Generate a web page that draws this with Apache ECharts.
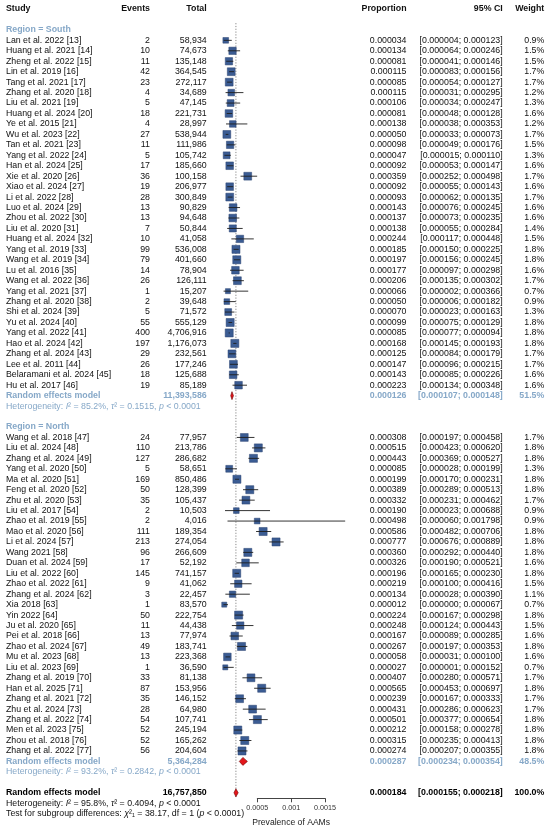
<!DOCTYPE html>
<html>
<head>
<meta charset="utf-8">
<script src="https://cdn.jsdelivr.net/npm/echarts@6/dist/echarts.min.js"></script>
<style>
html, body { margin: 0; padding: 0; background: #fff; }
#chart { width: 550px; height: 830px; }
</style>
</head>
<body>
<div id="chart"></div>
<script>
// ---- data: South region ----
var southStudies = ["Lan et al. 2022 [13]", "Huang et al. 2021 [14]", "Zheng et al. 2022 [15]", "Lin et al. 2019 [16]", "Tang et al. 2021 [17]",
  "Zhang et al. 2020 [18]", "Liu et al. 2021 [19]", "Huang et al. 2024 [20]", "Ye et al. 2015 [21]", "Wu et al. 2023 [22]",
  "Tan et al. 2021 [23]", "Yang et al. 2022 [24]", "Han et al. 2024 [25]", "Xie et al. 2020 [26]", "Xiao et al. 2024 [27]",
  "Li et al. 2022 [28]", "Luo et al. 2024 [29]", "Zhou et al. 2022 [30]", "Liu et al. 2020 [31]", "Huang et al. 2024 [32]",
  "Yang et al. 2019 [33]", "Wang et al. 2019 [34]", "Lu et al. 2016 [35]", "Wang et al. 2022 [36]", "Yang et al. 2021 [37]",
  "Zhang et al. 2020 [38]", "Shi et al. 2024 [39]", "Yu et al. 2024 [40]", "Yang et al. 2022 [41]", "Hao et al. 2024 [42]",
  "Zhang et al. 2024 [43]", "Lee et al. 2011 [44]", "Belaramani et al. 2024 [45]", "Hu et al. 2017 [46]"];
var southEvents = [2, 10, 11, 42, 23, 4, 5, 18, 4, 27, 11, 5, 17, 36, 19, 28, 13, 13, 7, 10, 99, 79, 14, 26, 1, 2, 5, 55, 400, 197, 29, 26, 18, 19];
var southTotals = [58934, 74673, 135148, 364545, 272117, 34689, 47145, 221731, 28997, 538944, 111986, 105742, 185660, 100158, 206977,
  300849, 90829, 94648, 50844, 41058, 536008, 401660, 78904, 126111, 15207, 39648, 71572, 555129, 4706916, 1176073, 232561, 177246, 125688, 85189];
var southProp = [0.000034, 0.000134, 0.000081, 0.000115, 0.000085, 0.000115, 0.000106, 0.000081, 0.000138, 0.000050, 0.000098, 0.000047,
  0.000092, 0.000359, 0.000092, 0.000093, 0.000143, 0.000137, 0.000138, 0.000244, 0.000185, 0.000197, 0.000177, 0.000206, 0.000066,
  0.000050, 0.000070, 0.000099, 0.000085, 0.000168, 0.000125, 0.000147, 0.000143, 0.000223];
var southLow = [0.000004, 0.000064, 0.000041, 0.000083, 0.000054, 0.000031, 0.000034, 0.000048, 0.000038, 0.000033, 0.000049, 0.000015,
  0.000053, 0.000252, 0.000055, 0.000062, 0.000076, 0.000073, 0.000055, 0.000117, 0.000150, 0.000156, 0.000097, 0.000135, 0.000002,
  0.000006, 0.000023, 0.000075, 0.000077, 0.000145, 0.000084, 0.000096, 0.000085, 0.000134];
var southHigh = [0.000123, 0.000246, 0.000146, 0.000156, 0.000127, 0.000295, 0.000247, 0.000128, 0.000353, 0.000073, 0.000176, 0.000110,
  0.000147, 0.000498, 0.000143, 0.000135, 0.000245, 0.000235, 0.000284, 0.000448, 0.000225, 0.000245, 0.000298, 0.000302, 0.000366,
  0.000182, 0.000163, 0.000129, 0.000094, 0.000193, 0.000179, 0.000215, 0.000226, 0.000348];
var southWeight = [0.9, 1.5, 1.5, 1.7, 1.7, 1.2, 1.3, 1.6, 1.2, 1.7, 1.5, 1.3, 1.6, 1.7, 1.6, 1.7, 1.6, 1.6, 1.4, 1.5, 1.8, 1.8, 1.6, 1.7,
  0.7, 0.9, 1.3, 1.8, 1.8, 1.8, 1.7, 1.7, 1.6, 1.6];

// ---- data: North region ----
var northStudies = ["Wang et al. 2018 [47]", "Liu et al. 2024 [48]", "Zhang et al. 2024 [49]", "Yang et al. 2020 [50]", "Ma et al. 2020 [51]",
  "Feng et al. 2020 [52]", "Zhu et al. 2020 [53]", "Liu et al. 2017 [54]", "Zhao et al. 2019 [55]", "Mao et al. 2020 [56]",
  "Li et al. 2024 [57]", "Wang 2021 [58]", "Duan et al. 2024 [59]", "Liu et al. 2022 [60]", "Zhao et al. 2022 [61]",
  "Zhang et al. 2024 [62]", "Xia 2018 [63]", "Yin 2022 [64]", "Ju et al. 2020 [65]", "Pei et al. 2018 [66]",
  "Zhao et al. 2024 [67]", "Mu et al. 2023 [68]", "Liu et al. 2023 [69]", "Zhang et al. 2019 [70]", "Han et al. 2025 [71]",
  "Zhang et al. 2021 [72]", "Zhu et al. 2024 [73]", "Zhang et al. 2022 [74]", "Men et al. 2023 [75]", "Zhou et al. 2018 [76]",
  "Zhang et al. 2022 [77]"];
var northEvents = [24, 110, 127, 5, 169, 50, 35, 2, 2, 111, 213, 96, 17, 145, 9, 3, 1, 50, 11, 13, 49, 13, 1, 33, 87, 35, 28, 54, 52, 52, 56];
var northTotals = [77957, 213786, 286682, 58651, 850486, 128399, 105437, 10503, 4016, 189354, 274054, 266609, 52192, 741157, 41062,
  22457, 83570, 222754, 44438, 77974, 183741, 223368, 36590, 81138, 153956, 146152, 64980, 107741, 245194, 165262, 204604];
var northProp = [0.000308, 0.000515, 0.000443, 0.000085, 0.000199, 0.000389, 0.000332, 0.000190, 0.000498, 0.000586, 0.000777, 0.000360,
  0.000326, 0.000196, 0.000219, 0.000134, 0.000012, 0.000224, 0.000248, 0.000167, 0.000267, 0.000058, 0.000027, 0.000407, 0.000565,
  0.000239, 0.000431, 0.000501, 0.000212, 0.000315, 0.000274];
var northLow = [0.000197, 0.000423, 0.000369, 0.000028, 0.000170, 0.000289, 0.000231, 0.000023, 0.000060, 0.000482, 0.000676, 0.000292,
  0.000190, 0.000165, 0.000100, 0.000028, 0.000000, 0.000167, 0.000124, 0.000089, 0.000197, 0.000031, 0.000001, 0.000280, 0.000453,
  0.000167, 0.000286, 0.000377, 0.000158, 0.000235, 0.000207];
var northHigh = [0.000458, 0.000620, 0.000527, 0.000199, 0.000231, 0.000513, 0.000462, 0.000688, 0.001798, 0.000706, 0.000889, 0.000440,
  0.000521, 0.000230, 0.000416, 0.000390, 0.000067, 0.000298, 0.000443, 0.000285, 0.000353, 0.000100, 0.000152, 0.000571, 0.000697,
  0.000333, 0.000623, 0.000654, 0.000278, 0.000413, 0.000355];
var northWeight = [1.7, 1.8, 1.8, 1.3, 1.8, 1.8, 1.7, 0.9, 0.9, 1.8, 1.8, 1.8, 1.6, 1.8, 1.5, 1.1, 0.7, 1.8, 1.5, 1.6, 1.8, 1.6, 0.7,
  1.7, 1.8, 1.7, 1.7, 1.8, 1.8, 1.8, 1.8];

// ---- subgroup and overall summaries ----
var regionNames = ["South", "North"];
var subTotals = [11393586, 5364284];
var subProp = [0.000126, 0.000287];
var subLow = [0.000107, 0.000234];
var subHigh = [0.000148, 0.000354];
var subWeight = [51.5, 48.5];
var subI2 = ["85.2%", "93.2%"];
var subTau2 = ["0.1515", "0.2842"];

var overallTotal = 16757850;
var overallProp = 0.000184;
var overallLow = 0.000155;
var overallHigh = 0.000218;
var overallWeight = 100.0;
var overallI2 = "95.8%";
var overallTau2 = "0.4094";
var testChi2 = "38.17";
var testDf = 1;

var xTicks = [0.0005, 0.001, 0.0015];

// ---- layout ----
var FONT = "Liberation Sans, Arial, sans-serif";
var FS = 8.8;
var BLUE = "#86a8c8";
var colX = { study: 6, events: 150, total: 206.7, prop: 406.5, ci: 502.7, weight: 544.3 };

function fmtInt(n) { return String(n).replace(/\B(?=(\d{3})+(?!\d))/g, ","); }
function fmtCI(l, h) { return "[" + l.toFixed(6) + "; " + h.toFixed(6) + "]"; }

// build rows
var rows = [];
var studyMarks = [];
var diamonds = [];
rows.push({ kind: "header", row: 0 });
var r = 2;
var groups = [
  { s: southStudies, e: southEvents, t: southTotals, p: southProp, l: southLow, h: southHigh, w: southWeight },
  { s: northStudies, e: northEvents, t: northTotals, p: northProp, l: northLow, h: northHigh, w: northWeight }
];
groups.forEach(function (g, gi) {
  rows.push({ kind: "region", row: r, name: "Region = " + regionNames[gi] });
  r++;
  g.s.forEach(function (name, i) {
    rows.push({ kind: "study", row: r, name: name, ev: g.e[i], tot: g.t[i], p: g.p[i], l: g.l[i], h: g.h[i], w: g.w[i] });
    studyMarks.push([g.p[i], r, g.l[i], g.h[i], g.w[i]]);
    r++;
  });
  rows.push({ kind: "summary", row: r, tot: subTotals[gi], p: subProp[gi], l: subLow[gi], h: subHigh[gi], w: subWeight[gi] });
  diamonds.push([subProp[gi], r, subLow[gi], subHigh[gi]]);
  r++;
  rows.push({ kind: "het", row: r, i2: subI2[gi], tau2: subTau2[gi] });
  r += 2;
});
rows.push({ kind: "overall", row: r, tot: overallTotal, p: overallProp, l: overallLow, h: overallHigh, w: overallWeight });
diamonds.push([overallProp, r, overallLow, overallHigh]);
var overallRow = r;
rows.push({ kind: "overallHet", row: r + 1, i2: overallI2, tau2: overallTau2 });
rows.push({ kind: "test", row: r + 2 });

var ROW_H = 10.45;
var TOP = 9;
var NROWS = r + 2;
var PX_PER = 67700; // px per unit of prevalence
var ZERO_X = 223.45;

function txt(x, y, text, align, opt) {
  opt = opt || {};
  return {
    type: "text", x: x, y: y,
    style: {
      text: text, align: align, verticalAlign: "middle",
      fontFamily: FONT, fontSize: FS, fontWeight: opt.bold ? "bold" : "normal",
      fill: opt.color || "#111", rich: opt.rich
    }
  };
}

var hetRich = function (color) {
  return {
    n: { fontFamily: FONT, fontSize: FS, fill: color },
    i: { fontFamily: FONT, fontSize: FS, fill: color, fontStyle: "italic" }
  };
};

function renderRow(params, api) {
  var d = rows[api.value(2)];
  var y = api.coord([0, d.row])[1];
  var c = [];
  if (d.kind === "header") {
    c.push(txt(colX.study, y, "Study", "left", { bold: true }));
    c.push(txt(colX.events, y, "Events", "right", { bold: true }));
    c.push(txt(colX.total, y, "Total", "right", { bold: true }));
    c.push(txt(colX.prop, y, "Proportion", "right", { bold: true }));
    c.push(txt(colX.ci, y, "95% CI", "right", { bold: true }));
    c.push(txt(colX.weight, y, "Weight", "right", { bold: true }));
  } else if (d.kind === "region") {
    c.push(txt(colX.study, y, d.name, "left", { bold: true, color: BLUE }));
  } else if (d.kind === "study") {
    c.push(txt(colX.study, y, d.name, "left"));
    c.push(txt(colX.events, y, String(d.ev), "right"));
    c.push(txt(colX.total, y, fmtInt(d.tot), "right"));
    c.push(txt(colX.prop, y, d.p.toFixed(6), "right"));
    c.push(txt(colX.ci, y, fmtCI(d.l, d.h), "right"));
    c.push(txt(colX.weight, y, d.w.toFixed(1) + "%", "right"));
  } else if (d.kind === "summary" || d.kind === "overall") {
    var o = { bold: true, color: d.kind === "summary" ? BLUE : "#000" };
    c.push(txt(colX.study, y, "Random effects model", "left", o));
    c.push(txt(colX.total, y, fmtInt(d.tot), "right", o));
    c.push(txt(colX.prop, y, d.p.toFixed(6), "right", o));
    c.push(txt(colX.ci, y, fmtCI(d.l, d.h), "right", o));
    c.push(txt(colX.weight, y, d.w.toFixed(1) + "%", "right", o));
  } else if (d.kind === "het" || d.kind === "overallHet") {
    var col = d.kind === "het" ? BLUE : "#111";
    c.push(txt(colX.study, y,
      "{n|Heterogeneity: }{i|I}{n|\u00b2 = " + d.i2 + ", }{i|\u03c4}{n|\u00b2 = " + d.tau2 + ", }{i|p}{n| < 0.0001}",
      "left", { color: col, rich: hetRich(col) }));
  } else if (d.kind === "test") {
    c.push(txt(colX.study, y,
      "{n|Test for subgroup differences: }{i|\u03c7}{n|\u00b2\u2081 = " + testChi2 + ", df = " + testDf + " (}{i|p}{n| < 0.0001)}",
      "left", { rich: hetRich("#111") }));
  }
  return { type: "group", children: c };
}

function renderStudy(params, api) {
  var c = api.coord([api.value(0), api.value(1)]);
  var lo = api.coord([api.value(2), api.value(1)])[0];
  var hi = api.coord([api.value(3), api.value(1)])[0];
  var s = 6 * Math.sqrt(api.value(4));
  return {
    type: "group",
    children: [
      { type: "rect", shape: { x: c[0] - s / 2, y: c[1] - s / 2, width: s, height: s },
        style: { fill: "#3b5c93", stroke: "#2a4270", lineWidth: 0.5 } },
      { type: "line", shape: { x1: lo, y1: c[1], x2: hi, y2: c[1] },
        style: { stroke: "#1e1e1e", lineWidth: 0.9 } }
    ]
  };
}

function renderDiamond(params, api) {
  var c = api.coord([api.value(0), api.value(1)]);
  var lo = api.coord([api.value(2), api.value(1)])[0];
  var hi = api.coord([api.value(3), api.value(1)])[0];
  var hh = 4;
  return {
    type: "polygon",
    shape: { points: [[lo, c[1]], [c[0], c[1] - hh], [hi, c[1]], [c[0], c[1] + hh]] },
    style: { fill: "#e3161b", stroke: "#6e0000", lineWidth: 0.6 }
  };
}

function renderRef(params, api) {
  var a = api.coord([api.value(0), api.value(1)]);
  var b = api.coord([api.value(0), api.value(2)]);
  return {
    type: "line",
    shape: { x1: a[0], y1: a[1], x2: b[0], y2: b[1] },
    style: { stroke: "#8a8a8a", lineWidth: 1, lineDash: [1.2, 1.6] }
  };
}

var gridW = 0.0025 * PX_PER;
var axisLeft = ZERO_X + xTicks[0] * PX_PER;
var axisRight = ZERO_X + xTicks[xTicks.length - 1] * PX_PER;
var axisY = 798.3;

var chart = echarts.init(document.getElementById("chart"), null, { renderer: "canvas" });
chart.setOption({
  animation: false,
  backgroundColor: "#fff",
  grid: [
    { left: ZERO_X, width: gridW, top: TOP, height: NROWS * ROW_H, containLabel: false },
    { left: axisLeft, width: axisRight - axisLeft, top: axisY - 8, height: 8, containLabel: false }
  ],
  xAxis: [
    { gridIndex: 0, type: "value", min: 0, max: 0.0025, show: false },
    { gridIndex: 1, type: "value", min: xTicks[0], max: xTicks[xTicks.length - 1], interval: 0.0005,
      axisLine: { show: true, lineStyle: { color: "#444", width: 1 } },
      axisTick: { show: true, length: 4, lineStyle: { color: "#444" } },
      axisLabel: { fontFamily: FONT, fontSize: 7.2, color: "#333", margin: 6, showMinLabel: true, showMaxLabel: true },
      splitLine: { show: false },
      name: "Prevalence of AAMs", nameLocation: "middle", nameGap: 20,
      nameTextStyle: { fontFamily: FONT, fontSize: 8.6, color: "#222" } }
  ],
  yAxis: [
    { gridIndex: 0, type: "value", min: 0, max: NROWS, inverse: true, show: false },
    { gridIndex: 1, type: "value", min: 0, max: 1, show: false }
  ],
  series: [
    { type: "custom", xAxisIndex: 0, yAxisIndex: 0, clip: false, silent: true,
      renderItem: renderRef, data: [[overallProp, 1.35, overallRow + 0.45]] },
    { type: "custom", xAxisIndex: 0, yAxisIndex: 0, clip: false, silent: true,
      renderItem: renderStudy, data: studyMarks },
    { type: "custom", xAxisIndex: 0, yAxisIndex: 0, clip: false, silent: true,
      renderItem: renderDiamond, data: diamonds },
    { type: "custom", xAxisIndex: 0, yAxisIndex: 0, clip: false, silent: true,
      renderItem: renderRow, data: rows.map(function (d, i) { return [0, d.row, i]; }) }
  ]
});
</script>
</body>
</html>
